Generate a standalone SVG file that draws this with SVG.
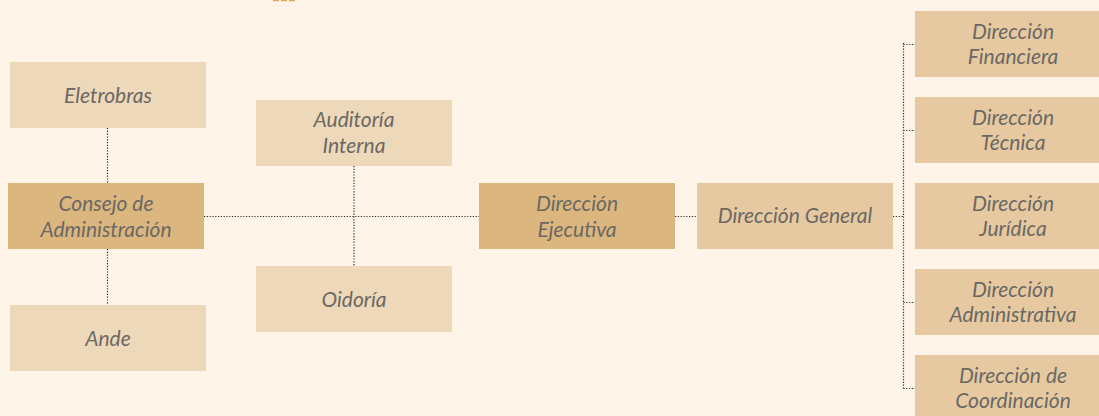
<svg xmlns="http://www.w3.org/2000/svg" width="1099" height="416" viewBox="0 0 1099 416">
<style>
.bg{fill:#FEF4E8}
.l{fill:#EED8BA}
.m{fill:#E6C9A1}
.d{fill:#DBB67E}
text{font-family:Lato,"Open Sans","Liberation Sans",sans-serif;font-style:italic;font-size:21px;fill:#6B6864;text-anchor:middle}
.c{fill:none;stroke:#2E2A26;stroke-width:1.2;stroke-dasharray:1.2 1.6}
</style>
<rect class="bg" x="0" y="0" width="1099" height="416"/>
<path d="M273 0.6H279M281 0.6H287M289 0.6H295" stroke="#D9A653" stroke-width="1.4" fill="none"/>
<g id="connectors">
<path class="c" d="M107.5 128V183M107.5 249V305M204 216.5H479M354 166V266M675 216.5H697M893 216.5H903.5M903.5 43V389M903.5 44.5H915M903.5 130.5H915M903.5 302.5H915M903.5 388.5H915"/>
</g>
<g id="eletrobras"><rect class="l" x="10" y="62" width="196" height="66"/><text x="108" y="103">Eletrobras</text></g>
<g id="consejo"><rect class="d" x="8" y="183" width="196" height="66"/><text x="106" y="211">Consejo de</text><text x="106" y="237">Administración</text></g>
<g id="ande"><rect class="l" x="10" y="305" width="196" height="66"/><text x="108" y="346">Ande</text></g>
<g id="auditoria"><rect class="l" x="256" y="100" width="196" height="66"/><text x="354" y="127">Auditoría</text><text x="354" y="153">Interna</text></g>
<g id="oidoria"><rect class="l" x="256" y="266" width="196" height="66"/><text x="354" y="307">Oidoría</text></g>
<g id="ejecutiva"><rect class="d" x="479" y="183" width="196" height="66"/><text x="577" y="211">Dirección</text><text x="577" y="237">Ejecutiva</text></g>
<g id="general"><rect class="m" x="697" y="183" width="196" height="66"/><text x="795" y="223">Dirección General</text></g>
<g id="financiera"><rect class="m" x="915" y="11" width="196" height="66"/><text x="1013" y="39">Dirección</text><text x="1013" y="64">Financiera</text></g>
<g id="tecnica"><rect class="m" x="915" y="97" width="196" height="66"/><text x="1013" y="125">Dirección</text><text x="1013" y="150">Técnica</text></g>
<g id="juridica"><rect class="m" x="915" y="183" width="196" height="66"/><text x="1013" y="211">Dirección</text><text x="1013" y="236">Jurídica</text></g>
<g id="administrativa"><rect class="m" x="915" y="269" width="196" height="66"/><text x="1013" y="297">Dirección</text><text x="1013" y="322">Administrativa</text></g>
<g id="coordinacion"><rect class="m" x="915" y="355" width="196" height="66"/><text x="1013" y="383">Dirección de</text><text x="1013" y="408">Coordinación</text></g>
</svg>
